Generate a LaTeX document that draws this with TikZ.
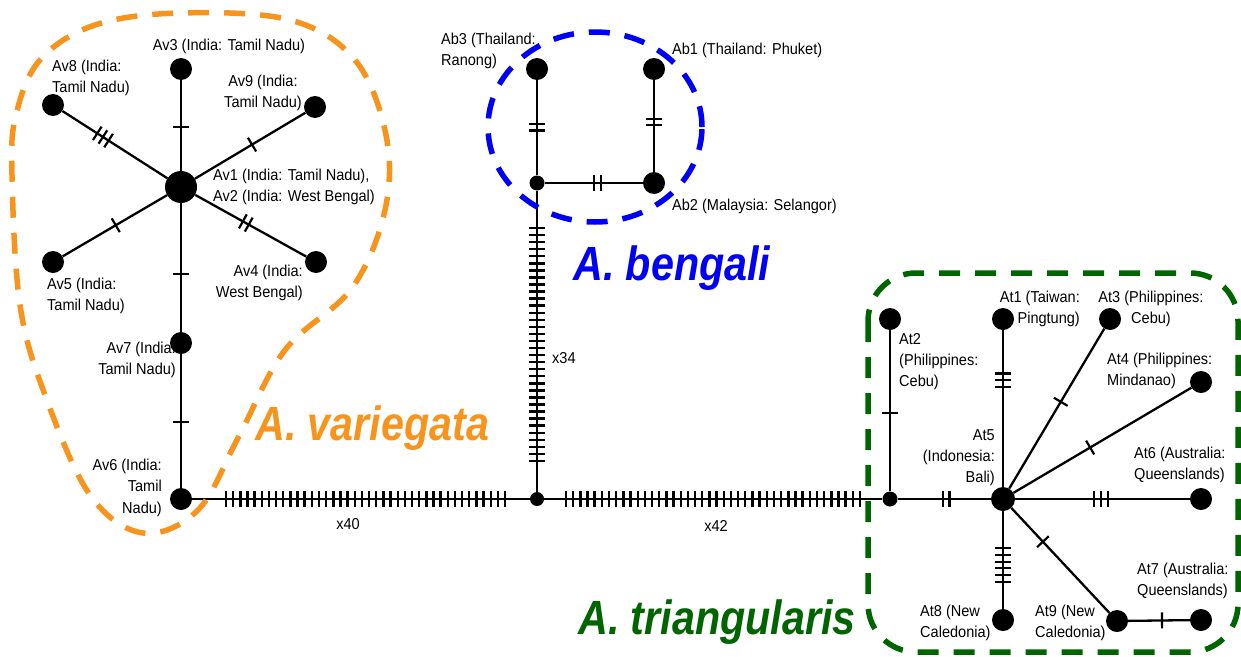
\documentclass[tikz,border=0pt]{standalone}
\usepackage{fontspec}
\usepackage{graphicx}
\setmainfont{Liberation Sans}
\newfontfamily\labf[FakeStretch=0.92]{Liberation Sans}
\newfontfamily\spcf[FakeStretch=0.86]{Liberation Sans}
\usetikzlibrary{calc}
\definecolor{vorange}{RGB}{247,148,30}
\definecolor{bblue}{RGB}{0,0,245}
\definecolor{tgreen}{RGB}{0,100,0}
\newcommand\tb{\rule{2.2pt}{16pt}}
\newcommand\bars[1]{\tb\ifnum#1>1 \kern4.5pt\tb\fi\ifnum#1>2 \kern4.5pt\tb\fi\ifnum#1>3 \kern4.5pt\tb\fi\ifnum#1>4 \kern4.5pt\tb\fi\ifnum#1>5 \kern4.5pt\tb\fi}
\begin{document}
\begin{tikzpicture}[x=1pt,y=-1pt,
  hap/.style={circle, fill=black, inner sep=0pt, minimum size=22pt},
  junc/.style={circle, fill=black, inner sep=0pt, minimum size=15pt},
  link/.style={line width=2.3pt},
  tk/.style={sloped, inner sep=0pt, outer sep=0pt, anchor=center},
  runtick/.style={line width=2.4pt},
  lab/.style={font=\labf\fontsize{15.8}{21.3}\selectfont, inner sep=0pt},
  spc/.style={font=\spcf\bfseries\itshape\fontsize{48}{50}\selectfont, inner sep=0pt, anchor=base west},
  bnd/.style={line width=5.5pt, dash pattern=on 21pt off 15pt}]
\useasboundingbox (0,0) rectangle (1241,656);
% ---------- A. variegata ----------
\node[hap, minimum size=32pt] (Av1) at (181,187) {};
\node[hap] (Av3) at (181,69) {};
\node[hap] (Av8) at (53,105) {};
\node[hap] (Av9) at (315,107) {};
\node[hap] (Av5) at (53,262) {};
\node[hap] (Av4) at (316,262) {};
\node[hap] (Av7) at (181,343) {};
\node[hap] (Av6) at (181,499) {};
% ---------- junctions ----------
\node[junc, minimum size=14pt] (J1) at (537,499) {};
\node[junc] (Abj) at (537,183) {};
\node[junc] (J2) at (890,499) {};
% ---------- A. bengali ----------
\node[hap] (Ab3) at (537,69) {};
\node[hap] (Ab1) at (654,69) {};
\node[hap] (Ab2) at (654,183) {};
% ---------- A. triangularis ----------
\node[hap] (At2) at (890,319) {};
\node[hap] (At1) at (1003,319) {};
\node[hap] (At3) at (1110,319) {};
\node[hap] (At4) at (1201,382) {};
\node[hap, minimum size=24pt] (At5) at (1003,499) {};
\node[hap] (At6) at (1201,499) {};
\node[hap] (At8) at (1003,620) {};
\node[hap] (At9) at (1117,621) {};
\node[hap] (At7) at (1201,620) {};
% ---------- connectors ----------
\draw[link] (Av1) -- (Av3);
\draw[link] (Av1) -- (Av8);
\draw[link] (Av1) -- (Av9);
\draw[link] (Av1) -- (Av5);
\draw[link] (Av1) -- (Av4);
\draw[link] (Av1) -- (Av7);
\draw[link] (Av7) -- (Av6);
\draw[link] (Av6) -- (J1);
\draw[link] (J1) -- (J2);
\draw[link] (J1) -- (Abj);
\draw[link] (Abj) -- (Ab3);
\draw[link] (Abj) -- (Ab2);
\draw[link] (Ab1) -- (Ab2);
\draw[link] (J2) -- (At2);
\draw[link] (J2) -- (At5);
\draw[link] (At5) -- (At1);
\draw[link] (At5) -- (At3);
\draw[link] (At5) -- (At4);
\draw[link] (At5) -- (At6);
\draw[link] (At5) -- (At8);
\draw[link] (At5) -- (At9);
\draw[link] (At9) -- (At7);
% ---------- mutation ticks ----------
\path (Av1.center) -- (Av3.center) node[tk,pos=0.508]{\bars{1}};
\path (Av1.center) -- (Av8.center) node[tk,pos=0.61]{\bars{3}};
\path (Av1.center) -- (Av9.center) node[tk,pos=0.53]{\bars{1}};
\path (Av1.center) -- (Av5.center) node[tk,pos=0.51]{\bars{1}};
\path (Av1.center) -- (Av4.center) node[tk,pos=0.48]{\bars{2}};
\path (Av1.center) -- (Av7.center) node[tk,pos=0.56]{\bars{1}};
\path (Av7.center) -- (Av6.center) node[tk,pos=0.506]{\bars{1}};
\path (Ab3.center) -- (Abj.center) node[tk,pos=0.51]{\bars{2}};
\path (Ab1.center) -- (Ab2.center) node[tk,pos=0.465]{\bars{2}};
\path (Abj.center) -- (Ab2.center) node[tk,pos=0.517]{\bars{2}};
\path (J2.center) -- (At2.center) node[tk,pos=0.478]{\bars{1}};
\path (J2.center) -- (At5.center) node[tk,pos=0.496]{\bars{2}};
\path (At5.center) -- (At1.center) node[tk,pos=0.66]{\bars{3}};
\path (At5.center) -- (At3.center) node[tk,pos=0.54]{\bars{1}};
\path (At5.center) -- (At4.center) node[tk,pos=0.44]{\bars{1}};
\path (At5.center) -- (At6.center) node[tk,pos=0.495]{\bars{3}};
\path (At5.center) -- (At8.center) node[tk,pos=0.545]{\bars{6}};
\path (At5.center) -- (At9.center) node[tk,pos=0.35]{\bars{1}};
\path (At9.center) -- (At7.center) node[tk,pos=0.536]{\bars{1}};
% long runs of ticks
\foreach \i in {0,...,39} \draw[runtick] ({226+\i*7.154},491) -- ++(0,16);
\foreach \i in {0,...,41} \draw[runtick] ({566+\i*7.171},491) -- ++(0,16);
\foreach \i in {0,...,33} \draw[runtick] (529,{228+\i*7.06}) -- ++(16,0);
% ---------- labels ----------
\node[lab, anchor=north] (LAv3) at (229,39) {Av3 (India: Tamil Nadu)};
\node[lab, anchor=north west, align=left] (LAv8) at (52,60) {Av8 (India:\\Tamil Nadu)};
\node[lab, anchor=north, align=center] (LAv9) at (263,75) {Av9 (India:\\Tamil Nadu)};
\node[lab, anchor=north west, align=left] (LAv1) at (213,169) {Av1 (India: Tamil Nadu),\\Av2 (India: West Bengal)};
\node[lab, anchor=north west, align=left] (LAv5) at (47,278) {Av5 (India:\\Tamil Nadu)};
\node[lab, anchor=north east, align=right] (LAv4) at (303,265) {Av4 (India:\\West Bengal)};
\node[lab, anchor=north east, align=right] (LAv7) at (176,342) {Av7 (India:\\Tamil Nadu)};
\node[lab, anchor=north east, align=right] (LAv6) at (162,459) {Av6 (India:\\Tamil\\Nadu)};
\node[lab, anchor=north west, align=left] (LAb3) at (441,33) {Ab3 (Thailand:\\Ranong)};
\node[lab, anchor=north west] (LAb1) at (672,43) {Ab1 (Thailand: Phuket)};
\node[lab, anchor=north west] (LAb2) at (672,199) {Ab2 (Malaysia: Selangor)};
\node[lab, anchor=west] (Lx34) at (552,358.5) {x34};
\node[lab] (Lx40) at (348,524.5) {x40};
\node[lab] (Lx42) at (716,525.5) {x42};
\node[lab, anchor=north west, align=left] (LAt2) at (899,333) {At2\\(Philippines:\\Cebu)};
\node[lab, anchor=north east, align=right] (LAt1) at (1080,291) {At1 (Taiwan:\\Pingtung)};
\node[lab, anchor=north, align=center] (LAt3) at (1151,291) {At3 (Philippines:\\Cebu)};
\node[lab, anchor=north west, align=left] (LAt4) at (1107,353) {At4 (Philippines:\\Mindanao)};
\node[lab, anchor=north east, align=right] (LAt5) at (995,429) {At5\\(Indonesia:\\Bali)};
\node[lab, anchor=north west, align=left] (LAt6) at (1134,447) {At6 (Australia:\\Queenslands)};
\node[lab, anchor=north west, align=left] (LAt7) at (1137,563) {At7 (Australia:\\Queenslands)};
\node[lab, anchor=north west, align=left] (LAt8) at (920,605) {At8 (New\\Caledonia)};
\node[lab, anchor=north west, align=left] (LAt9) at (1035,605) {At9 (New\\Caledonia)};
% ---------- species ----------
\node[spc, text=vorange] (Svar) at (255,440) {A. variegata};
\node[spc, text=bblue] (Sben) at (573,280) {A. bengali};
\node[spc, text=tgreen] (Stri) at (578,634) {A. triangularis};
% ---------- group outlines ----------
\draw[bnd, vorange] plot[smooth cycle, tension=0.6] coordinates {(12,175) (20,305) (45,395) (90,495) (143,533) (198,510) (238,438) (285,350) (352,288) (385,210) (386,135) (355,60) (290,20) (180,13) (95,25) (40,60) (16,115)};
\draw[bnd, bblue] (595,127) ellipse [x radius=107pt, y radius=95pt];
\draw[bnd, tgreen, rounded corners=48pt] (868,273) rectangle (1238,652);
\end{tikzpicture}
\end{document}
